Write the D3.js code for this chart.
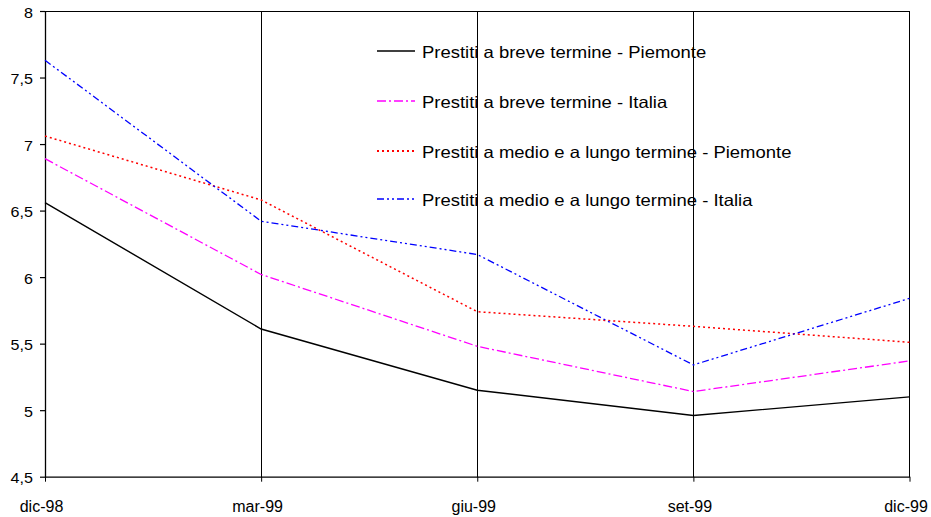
<!DOCTYPE html>
<html>
<head>
<meta charset="utf-8">
<script src="https://cdn.jsdelivr.net/npm/d3@7"></script>
<style>
  html, body { margin: 0; padding: 0; background: #fff; }
  svg { display: block; font-family: "Liberation Sans", Arial, sans-serif; }
</style>
</head>
<body>
<svg id="chart" width="931" height="517"></svg>
<script>
// Quarterly periods
const periods = ["dic-98", "mar-99", "giu-99", "set-99", "dic-99"];

// Interest rates (%) by loan type and area
const brevePiemonte = [6.56, 5.61, 5.15, 4.96, 5.10];
const breveItalia   = [6.89, 6.02, 5.48, 5.14, 5.37];
const medioPiemonte = [7.06, 6.58, 5.74, 5.63, 5.51];
const medioItalia   = [7.63, 6.42, 6.17, 5.34, 5.84];

const seriesNames = [
  "Prestiti a breve termine - Piemonte",
  "Prestiti a breve termine - Italia",
  "Prestiti a medio e a lungo termine - Piemonte",
  "Prestiti a medio e a lungo termine - Italia"
];

const yTicks = [4.5, 5, 5.5, 6, 6.5, 7, 7.5, 8];

const styles = [
  { color: "#000000", dash: null,            width: 1.4 },
  { color: "#FF00FF", dash: "9,3,2,3",       width: 1.3 },
  { color: "#FF0000", dash: "2,3",           width: 1.5 },
  { color: "#0000FF", dash: "7,3,2,3,2,3",   width: 1.3 }
];

const series = [brevePiemonte, breveItalia, medioPiemonte, medioItalia].map((vals, i) => ({
  name: seriesNames[i],
  values: vals,
  style: styles[i]
}));

const W = 931, H = 517;
const margin = { left: 45, right: W - 909.5, top: 11, bottom: H - 476.7 };
const svg = d3.select("#chart");

const x = d3.scalePoint().domain(periods).range([margin.left, W - margin.right]);
const y = d3.scaleLinear().domain([4.5, 8]).range([H - margin.bottom, margin.top]);

// vertical gridlines at each period (except the first, which is the y axis)
svg.append("g")
  .selectAll("line")
  .data(periods.slice(1))
  .join("line")
  .attr("x1", d => x(d)).attr("x2", d => x(d))
  .attr("y1", y(8)).attr("y2", y(4.5))
  .attr("stroke", "#000").attr("stroke-width", 1)
  .attr("shape-rendering", "crispEdges");

// top border
svg.append("line")
  .attr("x1", x(periods[0])).attr("x2", x(periods[periods.length - 1]))
  .attr("y1", y(8)).attr("y2", y(8))
  .attr("stroke", "#000").attr("stroke-width", 1)
  .attr("shape-rendering", "crispEdges");

// y axis
const yAxis = svg.append("g")
  .attr("transform", `translate(${margin.left},0)`)
  .call(d3.axisLeft(y).tickValues(yTicks).tickSize(5).tickSizeOuter(0)
    .tickFormat(d => d3.format("")(d).replace(".", ",")));
yAxis.select(".domain").attr("stroke", "#000").attr("stroke-width", 1.3);
yAxis.selectAll(".tick line").attr("stroke", "#000").attr("stroke-width", 1.2);
yAxis.selectAll(".tick text")
  .attr("x", 0)
  .attr("dy", "6px")
  .attr("transform", "translate(-12,0) scale(1.15,1)")
  .style("font-size", "14px")
  .style("font-family", "Liberation Sans, Arial, sans-serif")
  .attr("fill", "#000");

// x axis
const xAxis = svg.append("g")
  .attr("transform", `translate(0,${y(4.5)})`)
  .call(d3.axisBottom(x).tickSize(5).tickSizeOuter(0));
xAxis.select(".domain").attr("stroke", "#000").attr("stroke-width", 1.3);
xAxis.selectAll(".tick line").attr("stroke", "#000").attr("stroke-width", 1);
xAxis.selectAll(".tick text")
  .attr("x", -4)
  .attr("y", 35)
  .attr("dy", "0")
  .style("font-size", "16px")
  .style("font-family", "Liberation Sans, Arial, sans-serif")
  .attr("fill", "#000");

// series lines
const line = d3.line()
  .x((d, i) => x(periods[i]))
  .y(d => y(d));

svg.append("g")
  .selectAll("path")
  .data(series)
  .join("path")
  .attr("d", d => line(d.values))
  .attr("fill", "none")
  .attr("stroke", d => d.style.color)
  .attr("stroke-width", d => d.style.width)
  .attr("stroke-dasharray", d => d.style.dash);

// legend
const legendRows = [51, 101, 151, 199];
const legend = svg.append("g");
const item = legend.selectAll("g")
  .data(series)
  .join("g")
  .attr("transform", (d, i) => `translate(377,${legendRows[i]})`);
item.append("line")
  .attr("x1", 0).attr("x2", 38)
  .attr("y1", 0).attr("y2", 0)
  .attr("stroke", d => d.style.color)
  .attr("stroke-width", d => d.style.width + 0.3)
  .attr("stroke-dasharray", d => d.style.dash);
item.append("text")
  .attr("transform", "translate(45,7) scale(1.12,1)")
  .style("font-size", "16.5px")
  .attr("fill", "#000")
  .text(d => d.name);
</script>
</body>
</html>
